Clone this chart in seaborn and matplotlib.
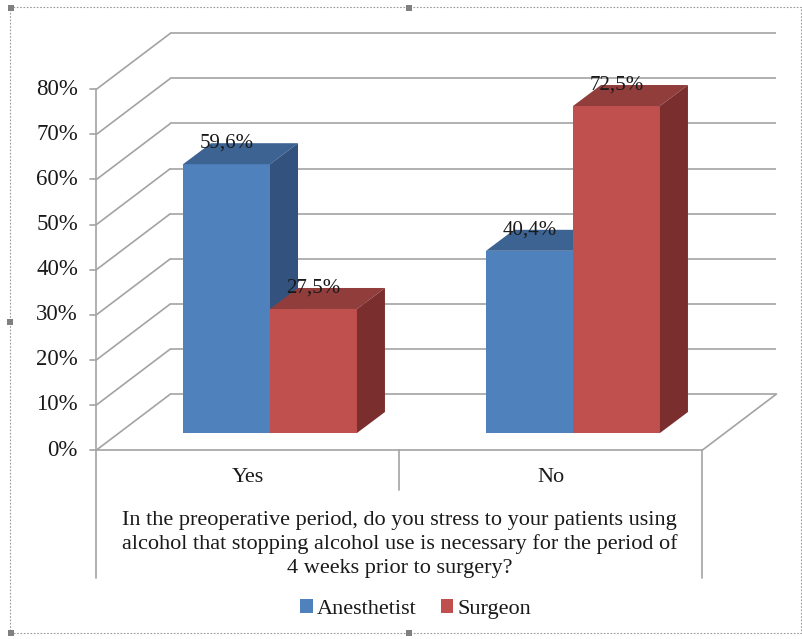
import matplotlib
matplotlib.use("Agg")
import matplotlib.pyplot as plt
import pandas as pd
import seaborn as sns
from matplotlib.patches import Polygon, Rectangle, Patch

# ---- data -------------------------------------------------------------
categories = ["Yes", "No"]
groups = ["Anesthetist", "Surgeon"]
anesthetist = [59.6, 40.4]
surgeon = [27.5, 72.5]
tick_values = [0, 10, 20, 30, 40, 50, 60, 70, 80]
tick_labels = [f"{t}%" for t in tick_values]
question_lines = [
    "In the preoperative period, do you stress to your patients using",
    "alcohol that stopping alcohol use is necessary for the period of",
    "4 weeks prior to surgery?",
]

# ---- styling ----------------------------------------------------------
front_col = {"Anesthetist": "#4F81BD", "Surgeon": "#C0504D"}
top_col = {"Anesthetist": "#3D6393", "Surgeon": "#913D3B"}
side_col = {"Anesthetist": "#33527D", "Surgeon": "#7A2F2E"}
grid_col = "#a3a3a3"
text_col = "#1a1a1a"

sns.set_style("white")
plt.rcParams["font.family"] = ["Liberation Serif", "DejaVu Serif"]

df = pd.DataFrame({
    "answer": categories * 2,
    "group": [g for g in groups for _ in categories],
    "share": anesthetist + surgeon,
})

W, H = 803, 639
fig = plt.figure(figsize=(W / 100, H / 100), dpi=100)
ax = fig.add_axes([0, 0, 1, 1])

sns.barplot(data=df, x="answer", y="share", hue="group", order=categories,
            hue_order=groups, palette=front_col, width=0.574, dodge=True,
            saturation=1, linewidth=0, errorbar=None, legend=False, ax=ax)

# category unit = 303 px, 1 % = 4.51 px
PXX, PXY = 303.0, 4.51
ax.set_xlim(-270 / PXX, (W - 270) / PXX)
ax.set_ylim(-(H - 433) / PXY, 433 / PXY)
ax.axis("off")

def X(px):
    return (px - 270) / PXX

def Y(row):
    return (433 - row) / PXY

# oblique depth offsets relative to the plane of the bar fronts
fx, fy = -22 / PXX, -17 / PXY      # front edge of floor / value axis
bx, by = 52 / PXX, 39 / PXY        # back wall
dbx, dby = 28 / PXX, 21 / PXY      # bar depth

lw = 1.2
xl, xr = -0.5, 1.5
# walls and gridlines
for v, lab in zip(tick_values, tick_labels):
    ax.plot([xl + fx, xl + bx], [v + fy, v + by], color=grid_col, lw=lw, zorder=1,
            solid_capstyle="butt")
    ax.plot([xl + bx, xr + bx], [v + by, v + by], color=grid_col, lw=lw, zorder=1,
            solid_capstyle="butt")
    ax.plot([X(90), xl + fx], [v + fy, v + fy], color=grid_col, lw=lw, zorder=1)
    ax.text(X(78), v + fy, lab, ha="right", va="center", fontsize=16.5,
            color=text_col)
# floor
ax.plot([xl + fx, xr + fx], [fy, fy], color=grid_col, lw=lw, zorder=1)
ax.plot([xr + fx, xr + bx], [fy, by], color=grid_col, lw=lw, zorder=1)
# value axis and category dividers
ax.plot([xl + fx, xl + fx], [80 + fy, Y(578)], color=grid_col, lw=lw, zorder=1)
ax.plot([xr + fx, xr + fx], [fy, Y(578)], color=grid_col, lw=lw, zorder=1)
ax.plot([0.5 + fx, 0.5 + fx], [fy, Y(490)], color=grid_col, lw=lw, zorder=1)

# 3-D faces and value labels for every bar
for gi, (grp, cont) in enumerate(zip(groups, ax.containers)):
    z = 2 + gi
    for bar in cont:
        bar.set_zorder(z)
        x0, w, h = bar.get_x(), bar.get_width(), bar.get_height()
        top = Polygon([(x0, h), (x0 + w, h), (x0 + w + dbx, h + dby), (x0 + dbx, h + dby)],
                      closed=True, facecolor=top_col[grp], edgecolor="none", zorder=z + 0.1)
        side = Polygon([(x0 + w, 0), (x0 + w + dbx, dby), (x0 + w + dbx, h + dby), (x0 + w, h)],
                       closed=True, facecolor=side_col[grp], edgecolor="none", zorder=z + 0.1)
        ax.add_patch(top)
        ax.add_patch(side)
        ax.text(x0 + w / 2, h + dby, f"{h:.1f}%".replace(".", ","), ha="center",
                va="center", fontsize=15, color=text_col, zorder=10)

# category names and axis title
for i, cat in enumerate(categories):
    ax.text(i + fx, Y(478), cat, ha="center", va="center", fontsize=16, color=text_col)
for k, line in enumerate(question_lines):
    ax.text(0.5 + fx, Y(520 + 24 * k), line, ha="center", va="center", fontsize=16,
            color=text_col)

# legend
handles = [Patch(facecolor=front_col[g], edgecolor="none") for g in groups]
fig.legend(handles, groups, loc="center", bbox_to_anchor=(416 / W, 1 - 609 / H),
           ncol=2, frameon=False, fontsize=16, handlelength=0.55, handleheight=0.55,
           handletextpad=0.2, columnspacing=1.1, labelcolor=text_col)

# dotted object frame with sizing handles
frame = Rectangle((10 / W, 1 - 633 / H), 791 / W, 626 / H, transform=fig.transFigure,
                  fill=False, edgecolor="#9a9a9a", lw=0.8, linestyle=(0, (1.5, 1.5)))
fig.add_artist(frame)
for hx, hy in [(11, 8), (409, 8), (10, 322), (409, 633), (11, 633)]:
    fig.add_artist(Rectangle(((hx - 3) / W, 1 - (hy + 3) / H), 6 / W, 6 / H,
                             transform=fig.transFigure, facecolor="#808080",
                             edgecolor="none"))

fig.savefig("out.png", dpi=100)
